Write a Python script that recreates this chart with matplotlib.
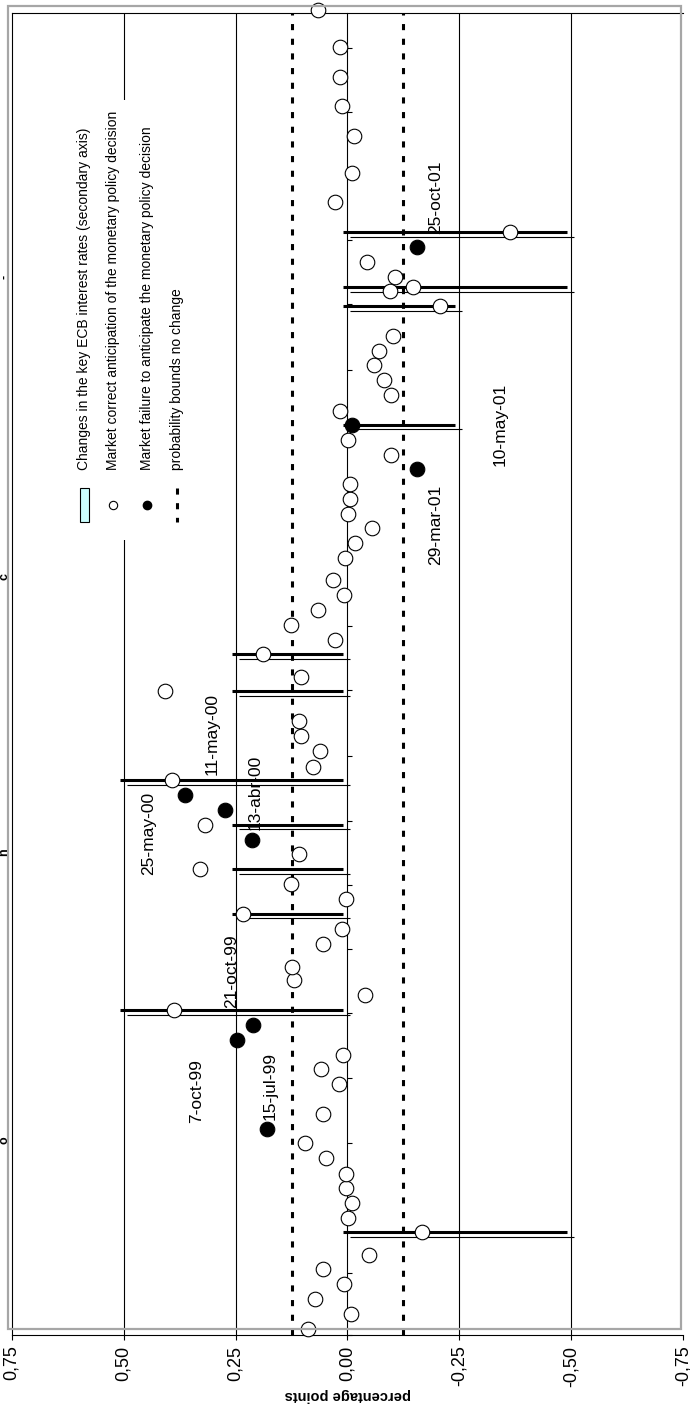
import matplotlib
matplotlib.use('Agg')
import matplotlib.pyplot as plt
import matplotlib.dates as mdates
import matplotlib.transforms as mtransforms
from matplotlib.patches import Rectangle
from matplotlib.lines import Line2D
import pandas as pd

plt.rcParams['font.family'] = ['Liberation Sans', 'DejaVu Sans']

# ECB meeting dates and the market surprise (percentage points)
meeting_dates = [
    '1999-01-07', '1999-01-21', '1999-02-04', '1999-02-18', '1999-03-04', '1999-03-18',
    '1999-04-08', '1999-04-22', '1999-05-06', '1999-05-20', '1999-06-02', '1999-06-17',
    '1999-07-01', '1999-07-15', '1999-07-29', '1999-08-26', '1999-09-09', '1999-09-23',
    '1999-10-07', '1999-10-21', '1999-11-04', '1999-11-18', '1999-12-02', '1999-12-15',
    '2000-01-05', '2000-01-20', '2000-02-03', '2000-02-17', '2000-03-02', '2000-03-16',
    '2000-03-30', '2000-04-13', '2000-04-27', '2000-05-11', '2000-05-25', '2000-06-08',
    '2000-06-21', '2000-07-06', '2000-07-20', '2000-08-03', '2000-08-31', '2000-09-14',
    '2000-10-05', '2000-10-19', '2000-11-02', '2000-11-16', '2000-11-30', '2000-12-14',
    '2001-01-04', '2001-01-18', '2001-02-01', '2001-02-15', '2001-03-01', '2001-03-15',
    '2001-03-29', '2001-04-11', '2001-04-26', '2001-05-10', '2001-05-23', '2001-06-07',
    '2001-06-21', '2001-07-05', '2001-07-19', '2001-08-02', '2001-08-30', '2001-09-13',
    '2001-09-17', '2001-09-27', '2001-10-11', '2001-10-25', '2001-11-08', '2001-12-06',
    '2002-01-03', '2002-02-07', '2002-03-07', '2002-04-04', '2002-05-02', '2002-06-06',
]
surprise = [
    0.089, -0.008, 0.073, 0.007, 0.054, -0.048,
    -0.166, -0.002, -0.010, 0.003, 0.003, 0.049,
    0.094, 0.180, 0.054, 0.018, 0.059, 0.009,
    0.247, 0.210, 0.388, -0.040, 0.119, 0.124,
    0.054, 0.013, 0.234, 0.003, 0.126, 0.329,
    0.108, 0.213, 0.319, 0.273, 0.364, 0.392,
    0.078, 0.061, 0.103, 0.108, 0.407, 0.103,
    0.189, 0.027, 0.126, 0.065, 0.007, 0.032,
    0.005, -0.017, -0.055, -0.002, -0.006, -0.006,
    -0.156, -0.097, -0.002, -0.010, 0.016, -0.097,
    -0.082, -0.060, -0.070, -0.101, -0.207, -0.095,
    -0.147, -0.106, -0.044, -0.156, -0.363, 0.027,
    -0.010, -0.015, 0.012, 0.016, 0.016, 0.065,
]

# meetings where the market failed to anticipate the decision
failure_dates = ['1999-07-15', '1999-10-07', '1999-10-21', '2000-04-13', '2000-05-11',
                 '2000-05-25', '2001-03-29', '2001-05-10', '2001-10-25']
failure_labels = ['15-jul-99', '7-oct-99', '21-oct-99', '13-abr-00', '11-may-00',
                  '25-may-00', '29-mar-01', '10-may-01', '25-oct-01']
label_offsets = [(3, 43), (-40, -51), (-22, 54), (3, 47), (-13, 76),
                 (-36, -38), (18, -56), (148, 0), (18, 50)]

# changes in the key ECB interest rates
change_dates = ['1999-04-08', '1999-11-04', '2000-02-03', '2000-03-16', '2000-04-27',
                '2000-06-08', '2000-08-31', '2000-10-05', '2001-05-10', '2001-08-30',
                '2001-09-17', '2001-11-08']
change_sizes = [-0.50, 0.50, 0.25, 0.25, 0.25, 0.50, 0.25, 0.25, -0.25, -0.25, -0.50, -0.50]

bound = 0.125
xticks = [0.75, 0.50, 0.25, 0.0, -0.25, -0.50, -0.75]

df = pd.DataFrame({'date': pd.to_datetime(meeting_dates), 'surprise': surprise})
df['fail'] = df['date'].isin(pd.to_datetime(failure_dates))

W, H = 690, 1405
fig = plt.figure(figsize=(W / 100, H / 100), dpi=100)
ax = fig.add_axes([11.7 / W, 1 - 1335 / H, (683.3 - 11.7) / W, (1335 - 13) / H])

ax.set_xlim(0.75, -0.75)
ax.set_ylim(pd.Timestamp('1999-01-01'), pd.Timestamp('2002-06-03'))

# grid
for g in [0.5, 0.25, -0.25, -0.5]:
    ax.axvline(g, color='black', lw=0.8, zorder=1)
for b in [bound, -bound]:
    ax.axvline(b, color='black', lw=2.2, ls=(0, (2.0, 2.8)), zorder=1)

# rate change bars (drawn as two offset edges)
thick_tr = mtransforms.offset_copy(ax.transData, fig=fig, x=-4, y=0, units='dots')
thin_tr = mtransforms.offset_copy(ax.transData, fig=fig, x=3, y=-4.5, units='dots')
for d, s in zip(pd.to_datetime(change_dates), change_sizes):
    ax.plot([0, s], [d, d], color='black', lw=2.2, transform=thick_tr, solid_capstyle='butt', zorder=2)
    ax.plot([0, s], [d, d], color='black', lw=0.8, transform=thin_tr, solid_capstyle='butt', zorder=2)

ok = df[~df['fail']]
bad = df[df['fail']]
ax.plot(ok['surprise'], ok['date'], 'o', ms=10.5, mfc='white', mec='black', mew=0.8,
        zorder=4, clip_on=False)
ax.plot(bad['surprise'], bad['date'], 'o', ms=10.5, mfc='black', mec='black', mew=0.8,
        zorder=4, clip_on=False)

for lab, d, (dx, dy) in zip(failure_labels, pd.to_datetime(failure_dates), label_offsets):
    v = df.loc[df['date'] == d, 'surprise'].iloc[0]
    ax.annotate(lab, xy=(v, d), xytext=(dx, dy), textcoords='offset pixels',
                rotation=90, ha='center', va='center', fontsize=12.5, zorder=5)

# axes styling
ax.spines['right'].set_position(('data', 0))
ax.spines['right'].set_linewidth(0.8)
ax.spines['left'].set_linewidth(0.8)
ax.spines['top'].set_linewidth(0.8)
ax.spines['bottom'].set_linewidth(0.8)
ax.yaxis.set_ticks_position('right')
ax.yaxis.set_major_locator(mdates.MonthLocator(bymonth=[1, 3, 5, 7, 9, 11]))
ax.tick_params(axis='y', direction='out', length=3.6, width=0.8, labelright=False, labelleft=False)

ax.set_xticks(xticks)
ax.set_xticklabels([('%.2f' % t).replace('.', ',').replace('-0,00', '0,00') for t in xticks],
                   rotation=90, fontsize=13)
ax.tick_params(axis='x', direction='out', length=3.6, width=0.8, pad=4)
ax.set_xlabel('percentage points', rotation=180, fontsize=10.5, fontweight='bold', labelpad=1)

# chart area frame
fig.patches.append(Rectangle((8 / W, 1 - 1329 / H), (681 - 8) / W, (1329 - 6) / H,
                             transform=fig.transFigure, fill=False, ec='#a6a6a6', lw=1.6, zorder=3))

# bold glyph remnants at the left edge
for yy, ch in [(277, '-'), (577, 'c'), (852, 'n'), (1140, 'o')]:
    fig.text(4 / W, 1 - yy / H, ch, rotation=90, ha='center', va='center',
             fontsize=9, fontweight='bold')

# legend (drawn rotated by hand)
fig.patches.append(Rectangle((70 / W, 1 - 540 / H), 125 / W, 440 / H, transform=fig.transFigure,
                             fc='white', ec='none', zorder=2))
leg_x = [84, 113, 147, 177]
leg_text = ['Changes in the key ECB interest rates (secondary axis)',
            'Market correct anticipation of the monetary policy decision',
            'Market failure to anticipate the monetary policy decision',
            'probability bounds no change']
for x, t in zip(leg_x, leg_text):
    fig.text(x / W, 1 - 470 / H, t, rotation=90, ha='center', va='bottom', fontsize=10, zorder=4)
fig.patches.append(Rectangle((79.5 / W, 1 - 522 / H), 9 / W, 34 / H, transform=fig.transFigure,
                             fc='#ccffff', ec='black', lw=0.8, zorder=4))
fig.lines.append(Line2D([113 / W], [1 - 505 / H], marker='o', ms=6, mfc='white', mec='black',
                        mew=0.8, transform=fig.transFigure, zorder=4))
fig.lines.append(Line2D([147 / W], [1 - 505 / H], marker='o', ms=6, mfc='black', mec='black',
                        transform=fig.transFigure, zorder=4))
fig.lines.append(Line2D([177 / W, 177 / W], [1 - 488 / H, 1 - 522 / H], color='black', lw=2.2,
                        ls=(0, (2.0, 2.8)), transform=fig.transFigure, zorder=4))

fig.savefig('out.png', dpi=100, facecolor='white')
